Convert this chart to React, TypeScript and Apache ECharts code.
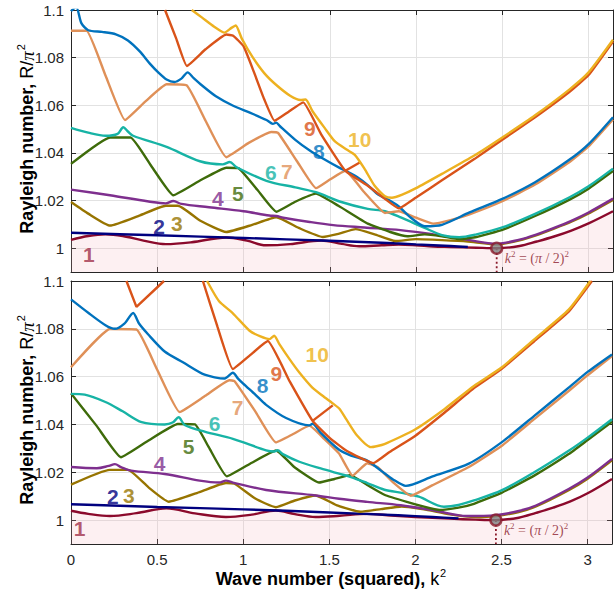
import React, { useEffect, useRef } from "react";
import * as echarts from "echarts";

// ---------- data (x = k², y = R/π²) ----------
const xTicks = [0, 0.5, 1, 1.5, 2, 2.5, 3];
const yTicks = [1, 1.02, 1.04, 1.06, 1.08, 1.1];
const criticalPoint: [number, number] = [(Math.PI / 2) ** 2, 1];

// Top panel curves 1..10
const top1 = [[0,1.0035],[0.1,1.0051],[0.2,1.0058],[0.3,1.0051],[0.42,1.0032],[0.55,1.0017],[0.7,1.0025],[0.9,1.0045],[1.02,1.0032],[1.13,1.0012],[1.27,1.0017],[1.45,1.0032],[1.57,1.0018],[1.67,1.0008],[1.8,1.0012],[1.9,1.0015],[2.0,1.0012],[2.1,1.0007],[2.2,1.0005],[2.35,1.0002],[2.467,1.0],[2.6,1.0009],[2.7,1.0028],[2.8,1.0049],[2.9,1.0074],[3.0,1.0104],[3.1416,1.0155]];
const top2 = [[0,1.0065],[0.5,1.0054],[1.0,1.0043],[1.5,1.0031],[1.8,1.0023],[2.0,1.0016],[2.2,1.0009],[2.3,1.0005]];
const top3 = [[0,1.0194],[0.1,1.0145],[0.226,1.0095],[0.4,1.0138],[0.55,1.0178],[0.62,1.0178],[0.75,1.0115],[0.9,1.0068],[1.05,1.0098],[1.19,1.013],[1.32,1.0085],[1.46,1.0047],[1.55,1.006],[1.65,1.008],[1.76,1.0058],[1.88,1.003],[2.0,1.0038],[2.15,1.0034],[2.3,1.0028],[2.467,1.0016],[2.6,1.0033],[2.7,1.0055],[2.8,1.0082],[2.9,1.0111],[3.0,1.0146],[3.1416,1.0203]];
const top4 = [[0,1.0246],[0.226,1.0222],[0.45,1.0196],[0.55,1.0188],[0.593,1.0198],[0.64,1.0186],[0.8,1.0172],[1.0,1.0155],[1.15,1.0137],[1.19,1.0135],[1.23,1.0128],[1.384,1.011],[1.52,1.0097],[1.7,1.0087],[1.91,1.0076],[2.1,1.0058],[2.3,1.0035],[2.467,1.0019],[2.6,1.0036],[2.7,1.0058],[2.8,1.0085],[2.9,1.0115],[3.0,1.015],[3.1416,1.0208]];
const top5 = [[0,1.0354],[0.226,1.0465],[0.345,1.0465],[0.47,1.034],[0.593,1.0222],[0.75,1.0285],[0.9,1.0338],[0.97,1.0336],[1.08,1.0245],[1.19,1.0153],[1.3,1.0195],[1.42,1.0229],[1.55,1.0178],[1.72,1.0103],[1.85,1.0068],[1.95,1.005],[2.05,1.0058],[2.15,1.005],[2.25,1.0038],[2.35,1.0047],[2.5,1.0077],[2.69,1.0135],[2.89,1.0204],[3.0,1.025],[3.1416,1.0324]];
const top6 = [[0,1.0505],[0.1,1.0485],[0.2,1.0472],[0.27,1.048],[0.303,1.0508],[0.33,1.049],[0.36,1.0472],[0.554,1.0425],[0.747,1.0365],[0.88,1.0352],[0.92,1.0362],[0.96,1.034],[1.133,1.0283],[1.3,1.0255],[1.42,1.0235],[1.557,1.0196],[1.72,1.0165],[1.82,1.0155],[1.915,1.0128],[2.05,1.0085],[2.15,1.0055],[2.25,1.0046],[2.35,1.0058],[2.5,1.0087],[2.69,1.0144],[2.89,1.0214],[3.0,1.026],[3.1416,1.0334]];
const top7 = [[0,1.0913],[0.09,1.0913],[0.2,1.0725],[0.313,1.0538],[0.43,1.0615],[0.554,1.0688],[0.67,1.0684],[0.78,1.0535],[0.9,1.0382],[1.03,1.0442],[1.16,1.0488],[1.2,1.0484],[1.31,1.0365],[1.42,1.0252],[1.5,1.0288],[1.59,1.0325],[1.7,1.0235],[1.82,1.0148],[1.9,1.0155],[2.0,1.0128],[2.1,1.0103],[2.2,1.0118],[2.31,1.0142],[2.5,1.0197],[2.69,1.0267],[2.89,1.0362],[3.0,1.0427],[3.1416,1.054]];
const top8 = [[0,1.0995],[0.03,1.1012],[0.06,1.0945],[0.1,1.0915],[0.18,1.0908],[0.26,1.0898],[0.33,1.0872],[0.4,1.0825],[0.457,1.0775],[0.51,1.0735],[0.554,1.0708],[0.6,1.0698],[0.64,1.0712],[0.676,1.0738],[0.71,1.0715],[0.76,1.0683],[0.84,1.0638],[0.94,1.0598],[1.04,1.0568],[1.133,1.0538],[1.17,1.0522],[1.19,1.0527],[1.21,1.0513],[1.3,1.0455],[1.384,1.041],[1.47,1.0372],[1.557,1.0337],[1.6,1.0322],[1.66,1.0298],[1.72,1.0265],[1.78,1.0225],[1.84,1.0203],[1.9,1.0175],[1.97,1.0128],[2.05,1.0092],[2.15,1.0098],[2.31,1.015],[2.5,1.0207],[2.69,1.0277],[2.89,1.0372],[3.0,1.0437],[3.1416,1.055]];
const top9 = [[0.545,1.1],[0.61,1.088],[0.672,1.0765],[0.78,1.0835],[0.9,1.0897],[0.94,1.0892],[1.0,1.0848],[1.06,1.074],[1.12,1.0625],[1.18,1.0535],[1.26,1.0572],[1.346,1.0612],[1.45,1.0478],[1.59,1.0325],[1.72,1.0262],[1.82,1.0207],[1.9,1.0167],[2.0,1.0213],[2.15,1.0285],[2.34,1.0375],[2.5,1.0455],[2.69,1.055],[2.89,1.0657],[3.0,1.0727],[3.1416,1.0868]];
const top9b = [[1.59,1.0325],[1.674,1.036]];
const top10 = [[0.7,1.1],[0.76,1.0968],[0.83,1.093],[0.89,1.0905],[0.93,1.0925],[0.955,1.0935],[0.99,1.088],[1.05,1.0805],[1.12,1.0735],[1.19,1.0685],[1.27,1.064],[1.33,1.0622],[1.36,1.0624],[1.4,1.0575],[1.47,1.0505],[1.53,1.0448],[1.6,1.0413],[1.645,1.0392],[1.7,1.0335],[1.76,1.0262],[1.82,1.0218],[1.86,1.0212],[1.92,1.0225],[2.0,1.0252],[2.15,1.0312],[2.34,1.039],[2.5,1.0465],[2.69,1.0558],[2.89,1.0667],[3.0,1.0738],[3.1416,1.0875]];

// Bottom panel curves 1..10
const bot1 = [[0,1.0039],[0.1,1.0026],[0.226,1.0017],[0.38,1.0029],[0.554,1.0049],[0.72,1.0028],[0.9,1.0013],[1.05,1.0023],[1.19,1.004],[1.3,1.0025],[1.42,1.0013],[1.56,1.0018],[1.72,1.0026],[1.86,1.0019],[2.0,1.0013],[2.2,1.0006],[2.35,1.0002],[2.467,1.0],[2.6,1.001],[2.7,1.003],[2.8,1.0052],[2.9,1.0078],[3.0,1.0112],[3.1416,1.0172]];
const bot2 = [[0,1.0066],[0.5,1.0055],[1.0,1.0045],[1.5,1.0032],[1.9,1.002],[2.1,1.0013],[2.25,1.0007]];
const bot3 = [[0,1.0148],[0.226,1.021],[0.33,1.021],[0.45,1.0137],[0.568,1.0077],[0.75,1.0118],[0.9,1.0155],[0.95,1.0152],[1.07,1.009],[1.19,1.0054],[1.3,1.0082],[1.42,1.0103],[1.55,1.006],[1.68,1.0035],[1.8,1.0046],[1.92,1.0057],[2.05,1.0045],[2.2,1.0024],[2.35,1.0013],[2.467,1.0017],[2.6,1.0034],[2.7,1.0057],[2.89,1.0125],[3.0,1.0173],[3.1416,1.025]];
const bot4 = [[0,1.0222],[0.15,1.0217],[0.22,1.0227],[0.255,1.0234],[0.29,1.0222],[0.35,1.0207],[0.544,1.0193],[0.747,1.0165],[0.86,1.0157],[0.9,1.0165],[0.94,1.0157],[1.133,1.0126],[1.42,1.0103],[1.557,1.0089],[1.72,1.0076],[1.915,1.0062],[2.11,1.004],[2.3,1.0017],[2.467,1.0021],[2.6,1.0038],[2.7,1.0061],[2.89,1.013],[3.0,1.0178],[3.1416,1.0256]];
const bot5 = [[0,1.053],[0.15,1.0393],[0.29,1.0263],[0.45,1.0333],[0.62,1.0402],[0.72,1.04],[0.8,1.0305],[0.905,1.0183],[1.05,1.024],[1.19,1.0291],[1.3,1.022],[1.44,1.0157],[1.53,1.0172],[1.62,1.0188],[1.72,1.0147],[1.82,1.0106],[1.95,1.0076],[2.05,1.0056],[2.14,1.0042],[2.25,1.0052],[2.34,1.0068],[2.5,1.0114],[2.69,1.0186],[2.89,1.0276],[3.0,1.0335],[3.1416,1.0411]];
const bot6 = [[0,1.0528],[0.08,1.0525],[0.2,1.0494],[0.3,1.0455],[0.41,1.041],[0.544,1.04],[0.59,1.0408],[0.625,1.043],[0.66,1.0398],[0.776,1.037],[0.94,1.034],[1.133,1.0292],[1.18,1.0287],[1.2,1.0292],[1.23,1.0276],[1.326,1.0244],[1.45,1.0216],[1.557,1.0194],[1.626,1.018],[1.72,1.0155],[1.82,1.0127],[1.93,1.0113],[2.02,1.0098],[2.166,1.0056],[2.25,1.0063],[2.34,1.0082],[2.5,1.0124],[2.69,1.02],[2.89,1.029],[3.0,1.0345],[3.1416,1.0422]];
const bot7 = [[0,1.0639],[0.226,1.0799],[0.38,1.0797],[0.5,1.063],[0.631,1.0452],[0.78,1.052],[0.92,1.0585],[0.95,1.0581],[1.07,1.0455],[1.19,1.0325],[1.29,1.036],[1.384,1.0395],[1.47,1.034],[1.557,1.0278],[1.635,1.0186],[1.72,1.0238],[1.78,1.0222],[1.87,1.0158],[1.973,1.0102],[2.1,1.0146],[2.31,1.0222],[2.5,1.031],[2.69,1.0422],[2.89,1.054],[3.0,1.0606],[3.1416,1.0686]];
const bot8 = [[0,1.0923],[0.1,1.0867],[0.2,1.0815],[0.255,1.08],[0.31,1.0822],[0.361,1.0866],[0.395,1.0822],[0.45,1.0775],[0.544,1.0705],[0.65,1.066],[0.776,1.0608],[0.892,1.0592],[0.94,1.0616],[0.97,1.0592],[1.0,1.0571],[1.07,1.0525],[1.133,1.0482],[1.249,1.0427],[1.384,1.0396],[1.403,1.0403],[1.45,1.0365],[1.557,1.0294],[1.626,1.027],[1.72,1.0249],[1.8,1.0207],[1.87,1.017],[1.944,1.0143],[2.1,1.0183],[2.31,1.0236],[2.5,1.0325],[2.69,1.0436],[2.89,1.0554],[3.0,1.062],[3.1416,1.0693]];
const bot9a = [[0.322,1.1],[0.38,1.0892],[0.54,1.1]];
const bot9 = [[0.766,1.1],[0.85,1.081],[0.94,1.0632],[1.04,1.069],[1.143,1.0749],[1.27,1.058],[1.403,1.0415],[1.5,1.0345],[1.6,1.029],[1.755,1.0238],[1.85,1.0285],[2.0,1.0353],[2.17,1.045],[2.34,1.0552],[2.5,1.0632],[2.69,1.0748],[2.89,1.0872],[3.025,1.1]];
const bot9b = [[1.403,1.0415],[1.52,1.048]];
const bot10 = [[0.79,1.1],[0.86,1.0915],[0.94,1.0865],[1.037,1.0792],[1.1,1.0768],[1.153,1.0757],[1.18,1.0771],[1.21,1.0736],[1.27,1.0672],[1.326,1.0617],[1.4,1.0555],[1.461,1.052],[1.52,1.0488],[1.56,1.0465],[1.6,1.042],[1.66,1.0355],[1.741,1.0305],[1.82,1.0318],[2.0,1.038],[2.17,1.0465],[2.34,1.0561],[2.5,1.0638],[2.69,1.0756],[2.89,1.088],[3.015,1.1]];

// curve label positions (data coordinates)
const topLabelPos = [[0.104,0.9972],[0.51,1.0093],[0.614,1.0105],[0.851,1.021],[0.967,1.023],[1.158,1.0318],[1.251,1.0322],[1.436,1.0405],[1.384,1.0501],[1.673,1.0456]];
const botLabelPos = [[0.05,0.9966],[0.243,1.01],[0.336,1.0104],[0.515,1.0238],[0.683,1.0308],[0.834,1.0404],[0.967,1.0471],[1.112,1.0563],[1.193,1.0613],[1.43,1.0692]];
const curveNames = ["1", "2", "3", "4", "5", "6", "7", "8", "9", "10"];

const COLORS = ["#8b0a2c", "#00007f", "#977400", "#7e2f8e", "#3e6b0a", "#17b3a5", "#df9058", "#0072bd", "#d95319", "#edb120"];
const LABEL_COLORS = ["#a0304a", "#00007f", "#977400", "#7e2f8e", "#3e6b0a", "#17b3a5", "#df9058", "#0072bd", "#d95319", "#edb120"];
const SMOOTH = [0.35, 0.3, 0.15, 0.35, 0.12, 0.3, 0.12, 0.25, 0.12, 0.2];

const FONT = "'Liberation Sans', Arial, Helvetica, sans-serif";
const SERIF = "'Liberation Serif', 'Times New Roman', serif";
const AXIS_COLOR = "#262626";
const MAROON = "#8b1a2b";
const LW = 2.4;

function buildPanel(p: number, curves: number[][][], extras: { idx: number; data: number[][] }[], labelPos: number[][]) {
  const xi = p * 2;
  const yi = p * 2;
  const series: any[] = [];
  curves.forEach((data, i) => {
    const s: any = {
      type: "line",
      xAxisIndex: xi,
      yAxisIndex: yi,
      data,
      symbol: "none",
      showSymbol: false,
      smooth: SMOOTH[i],
      lineStyle: { color: COLORS[i], width: LW },
      itemStyle: { color: COLORS[i] },
      silent: true,
      z: 2 + i * 0.01,
    };
    if (i === 0) {
      s.areaStyle = { color: "rgba(245,170,180,0.25)", origin: "start" };
    }
    series.push(s);
  });
  extras.forEach((e) => {
    series.push({
      type: "line",
      xAxisIndex: xi,
      yAxisIndex: yi,
      data: e.data,
      symbol: "none",
      showSymbol: false,
      lineStyle: { color: COLORS[e.idx], width: LW },
      silent: true,
      z: 2 + e.idx * 0.01,
    });
  });
  // dotted drop line
  series.push({
    type: "line",
    xAxisIndex: xi,
    yAxisIndex: yi,
    data: [criticalPoint, [criticalPoint[0], 0.99]],
    symbol: "none",
    lineStyle: { color: MAROON, width: 1.8, type: [2, 2.5] },
    silent: true,
    z: 4,
  });
  // critical point marker + text
  series.push({
    type: "scatter",
    xAxisIndex: xi,
    yAxisIndex: yi,
    data: [criticalPoint],
    symbol: "circle",
    symbolSize: 11,
    itemStyle: { color: "#808080", borderColor: MAROON, borderWidth: 2.4 },
    silent: true,
    z: 6,
  });
  series.push({
    type: "scatter",
    xAxisIndex: xi,
    yAxisIndex: yi,
    data: [criticalPoint],
    symbolSize: 0,
    silent: true,
    z: 6,
    label: {
      show: true,
      position: "right",
      distance: 8,
      offset: [0, 10],
      formatter: "{i|k}{s|2}{t| = (}{i|π}{t| / 2)}{s|2}",
      rich: {
        i: { fontFamily: SERIF, fontSize: 14, fontStyle: "italic", color: MAROON },
        t: { fontFamily: SERIF, fontSize: 14, color: MAROON },
        s: { fontFamily: SERIF, fontSize: 9, color: MAROON, padding: [0, 0, 9, 0] },
      },
    },
  });
  // curve labels
  series.push({
    type: "scatter",
    xAxisIndex: xi,
    yAxisIndex: yi,
    symbolSize: 0,
    silent: true,
    z: 7,
    data: labelPos.map((pt, i) => ({ value: pt, name: curveNames[i], label: { color: LABEL_COLORS[i] } })),
    label: { show: true, position: "inside", formatter: "{b}", fontFamily: FONT, fontWeight: "bold", fontSize: 21 },
  });
  return series;
}

function axesFor(gridIndex: number, showX: boolean) {
  const lineStyle = { color: AXIS_COLOR, width: 1 };
  const tick = { show: true, inside: true, length: 5, lineStyle };
  const split = { show: true, lineStyle: { color: "#e2e2e2", width: 1 } };
  const xA = [
    {
      type: "value", gridIndex, min: xTicks[0], max: Math.PI, interval: xTicks[1] - xTicks[0], position: "bottom",
      axisLine: { show: true, onZero: false, lineStyle }, axisTick: tick, splitLine: split,
      axisLabel: {
        show: showX, margin: 8, color: AXIS_COLOR, fontSize: 15, fontFamily: FONT,
        formatter: (v: number) => (v > xTicks[xTicks.length - 1] + 0.01 ? "" : String(v)),
      },
    },
    {
      type: "value", gridIndex, min: xTicks[0], max: Math.PI, interval: xTicks[1] - xTicks[0], position: "top",
      axisLine: { show: true, onZero: false, lineStyle }, axisTick: tick, splitLine: { show: false }, axisLabel: { show: false },
    },
  ];
  const yA = [
    {
      type: "value", gridIndex, min: 0.99, max: yTicks[yTicks.length - 1], splitNumber: 5, position: "left",
      axisLine: { show: true, onZero: false, lineStyle }, axisTick: tick, splitLine: split,
      axisLabel: {
        show: true, margin: 7, color: AXIS_COLOR, fontSize: 15, fontFamily: FONT,
        formatter: (v: number) => (v < yTicks[0] - 0.005 ? "" : String(Math.round(v * 100) / 100)),
      },
    },
    {
      type: "value", gridIndex, min: 0.99, max: yTicks[yTicks.length - 1], splitNumber: 5, position: "right",
      axisLine: { show: true, onZero: false, lineStyle }, axisTick: tick, splitLine: { show: false }, axisLabel: { show: false },
    },
  ];
  return { xA, yA };
}

const yRich = {
  b: { fontFamily: FONT, fontSize: 18, fontWeight: "bold", fill: "#000", color: "#000" },
  r: { fontFamily: FONT, fontSize: 18, color: "#000" },
  p: { fontFamily: SERIF, fontSize: 19, fontStyle: "italic", color: "#000" },
  s: { fontFamily: FONT, fontSize: 11, color: "#000", padding: [0, 0, 13, 1] },
};

export default function App() {
  const ref = useRef<HTMLDivElement>(null);
  useEffect(() => {
    if (!ref.current) return;
    const chart = echarts.init(ref.current, undefined, { renderer: "svg" });
    const a0 = axesFor(0, false);
    const a1 = axesFor(1, true);
    const series = [
      ...buildPanel(0, [top1, top2, top3, top4, top5, top6, top7, top8, top9, top10], [{ idx: 8, data: top9b }], topLabelPos),
      ...buildPanel(1, [bot1, bot2, bot3, bot4, bot5, bot6, bot7, bot8, bot9, bot10], [{ idx: 8, data: bot9a }, { idx: 8, data: bot9b }], botLabelPos),
    ];
    chart.setOption({
      animation: false,
      backgroundColor: "#ffffff",
      grid: [
        { left: 71, top: 10, width: 542, height: 262, show: false },
        { left: 71, top: 281, width: 542, height: 263, show: false },
      ],
      xAxis: [...a0.xA, ...a1.xA],
      yAxis: [...a0.yA, ...a1.yA],
      series,
      graphic: [
        {
          type: "text", x: 27, y: 139, rotation: Math.PI / 2,
          style: { text: "{b|Rayleigh number, }{r|R/}{p|π}{s|2}", rich: yRich, align: "center", verticalAlign: "middle", textAlign: "center", textVerticalAlign: "middle" },
        },
        {
          type: "text", x: 27, y: 410, rotation: Math.PI / 2,
          style: { text: "{b|Rayleigh number, }{r|R/}{p|π}{s|2}", rich: yRich, align: "center", verticalAlign: "middle", textAlign: "center", textVerticalAlign: "middle" },
        },
        {
          type: "text", x: 331, y: 579,
          style: { text: "{b|Wave number (squared), }{r|k}{s|2}", rich: yRich, align: "center", verticalAlign: "middle", textAlign: "center", textVerticalAlign: "middle" },
        },
      ],
    });
    return () => chart.dispose();
  }, []);
  return <div ref={ref} style={{ position: "absolute", left: 0, top: 0, width: 615, height: 592 }} />;
}
